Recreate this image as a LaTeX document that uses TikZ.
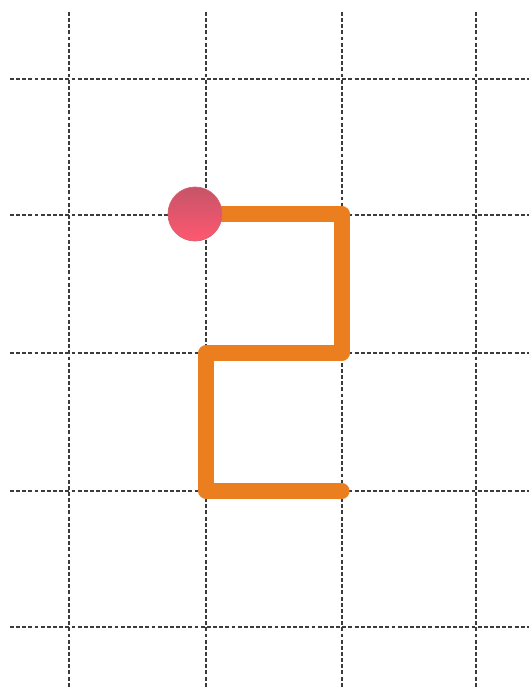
\documentclass[tikz,border=0pt]{standalone}
\begin{document}
\begin{tikzpicture}[x=0.01cm,y=-0.01cm,
  gridline/.style={draw={rgb,255:red,60;green,60;blue,60},line width=0.65pt,dash pattern=on 1.1pt off 0.65pt},
  route/.style={draw={rgb,255:red,235;green,127;blue,32},line width=4.3pt,line cap=round},
  startdot/.style={circle,minimum size=0.54cm,inner sep=0pt,top color={rgb,255:red,198;green,84;blue,104},bottom color={rgb,255:red,255;green,88;blue,112},draw={rgb,255:red,215;green,95;blue,110},line width=0.2pt}]
\useasboundingbox (0,0) rectangle (529,688);
\fill[white] (0,0) rectangle (529,688);
% grid
\foreach \gx in {69,206,342,476} \draw[gridline] (\gx,12) -- (\gx,688);
\foreach \gy in {79,215,353,491,627} \draw[gridline] (10,\gy) -- (529,\gy);
% route points
\coordinate (p1) at (342,214);
\coordinate (p2) at (342,353);
\coordinate (p3) at (206,353);
\coordinate (p4) at (206,491);
\coordinate (p5) at (342,491);
\coordinate (s) at (195,214);
\draw[route] (s) -- (p1);
\draw[route] (p1) -- (p2);
\draw[route] (p2) -- (p3);
\draw[route] (p3) -- (p4);
\draw[route] (p4) -- (p5);
\node[startdot] (start) at (s) {};
\end{tikzpicture}
\end{document}
